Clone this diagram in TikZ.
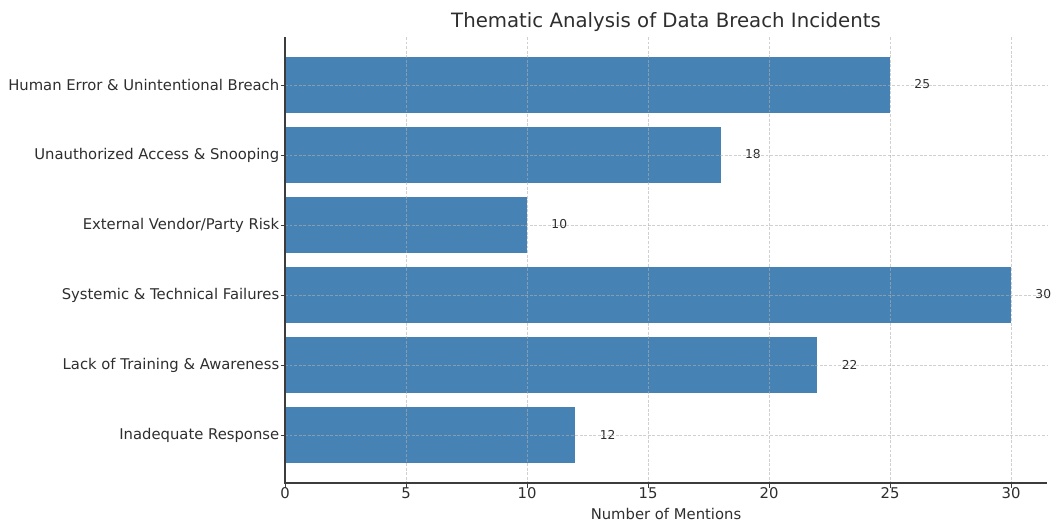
\documentclass[tikz,border=0pt]{standalone}
\usepackage{fontspec}
\setmainfont{DejaVu Sans}
\definecolor{barblue}{HTML}{4682B4}
\definecolor{txt}{HTML}{2E2E2E}
\definecolor{spine}{HTML}{3C3C3C}
\definecolor{gridc}{HTML}{B0B0B0}
\begin{document}
\begin{tikzpicture}[x=0.75pt,y=-0.75pt,
  bar/.style={fill=barblue},
  gridline/.style={draw=gridc,line width=0.6pt,dash pattern=on 2.2pt off 1.2pt,opacity=0.6},
  spineline/.style={draw=spine,line width=1pt},
  tickline/.style={draw=spine,line width=0.75pt},
  ticklab/.style={text=txt,font=\fontsize{11.1}{13}\selectfont,inner sep=0pt},
  catlab/.style={ticklab,anchor=east},
  vallab/.style={text=txt,font=\fontsize{9.2}{11}\selectfont,inner sep=0pt,anchor=west},
  titlelab/.style={text=txt,font=\fontsize{14.8}{17}\selectfont,inner sep=0pt}]
\useasboundingbox (0,0) rectangle (1051,521);
% bars
\foreach \v [count=\i from 0] in {25,18,10,30,22,12}{
  \fill[bar] (285,{57+70*\i}) rectangle ({285+24.2*\v},{113+70*\i});
  \node[vallab] (val\i) at ({285+24.2*(\v+1)},{84.5+70*\i}) {\v};
}
% grid
\foreach \t in {0,5,...,30}{
  \draw[gridline] ({285+24.2*\t},37) -- ({285+24.2*\t},483);
}
\foreach \i in {0,...,5}{
  \draw[gridline] (285,{85+70*\i}) -- (1047,{85+70*\i});
}
% spines
\coordinate (orig) at (285,483);
\coordinate (ytop) at (285,37);
\coordinate (xend) at (1047,483);
\draw[spineline] (ytop) -- (orig) -- (xend);
% x ticks
\foreach \t in {0,5,...,30}{
  \draw[tickline] ({285+24.2*\t},483) -- ({285+24.2*\t},487.5);
  \node[ticklab,anchor=north] (xt\t) at ({285+24.2*\t},487.5) {\t};
}
% y ticks and labels
\foreach \lab [count=\i from 0] in {Human Error \& Unintentional Breach,Unauthorized Access \& Snooping,External Vendor/Party Risk,Systemic \& Technical Failures,Lack of Training \& Awareness,Inadequate Response}{
  \draw[tickline] (280.5,{85+70*\i}) -- (285,{85+70*\i});
  \node[catlab] (yl\i) at (279.5,{85+70*\i}) {\lab};
}
\node[ticklab] (xlabel) at (666,513.5) {Number of Mentions};
\node[titlelab] (title) at (666,22) {Thematic Analysis of Data Breach Incidents};
\end{tikzpicture}
\end{document}
